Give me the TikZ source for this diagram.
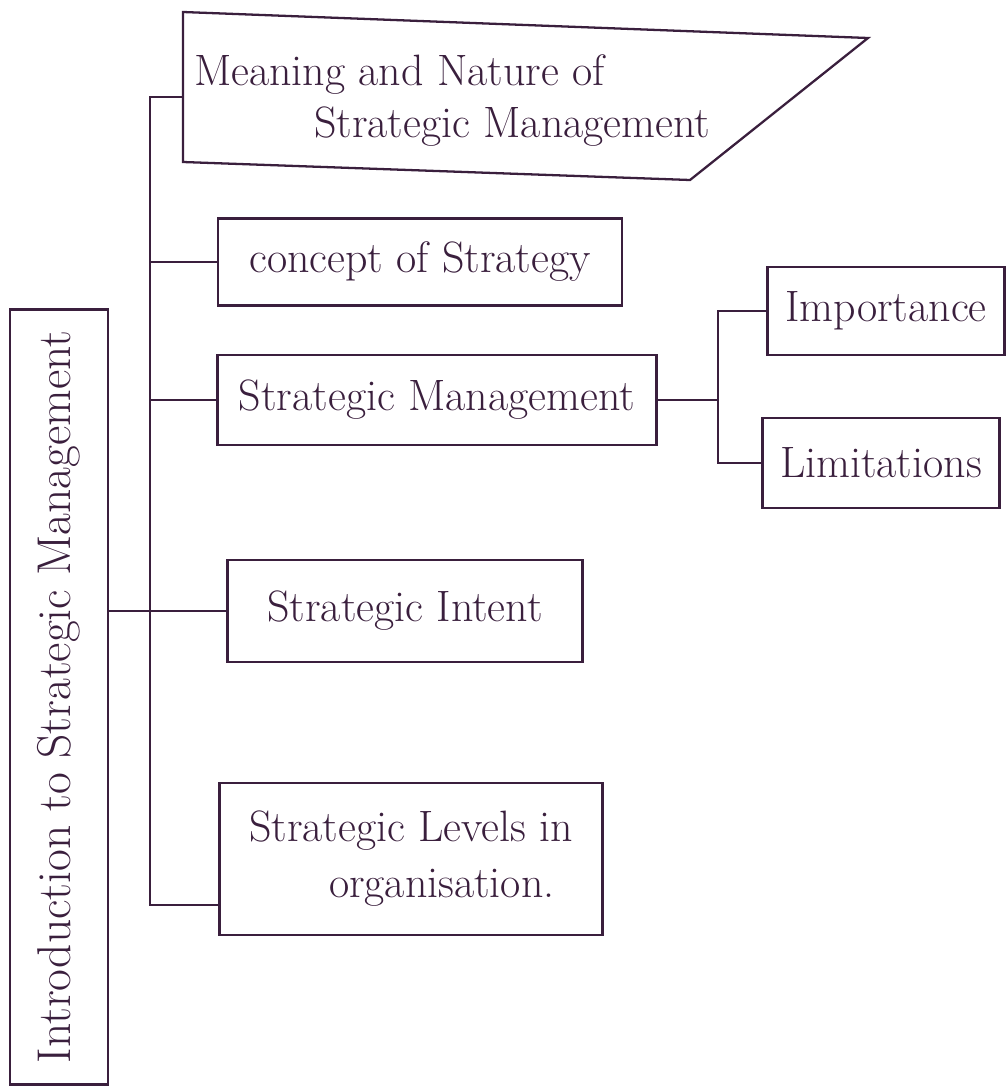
\documentclass[tikz,border=0pt]{standalone}
\usepackage{xcolor}
\usepackage{tikz}
\usetikzlibrary{calc}
\definecolor{ink}{HTML}{3A1F3D}
\tikzset{
  topic/.style={draw=ink,line width=1.3pt,text=ink,inner sep=4pt,
    font=\fontsize{25}{32}\selectfont},
  link/.style={draw=ink,line width=1.3pt}
}

\begin{document}
\begin{tikzpicture}[x=0.02cm,y=-0.02cm]
    \useasboundingbox (0,0) rectangle (1007,1092);

    % main heading, written upwards
    \node[topic,rotate=90,minimum width=15.5cm,minimum height=1.96cm,font=\fontsize{27}{32}\selectfont] (intro) at (59,697) {Introduction to Strategic Management};

    % first box, slanted on its right side
    \draw[link] (183,12) -- (868,38) -- (690,180) -- (183,162) -- cycle;
    \node[text=ink,font=\fontsize{25}{30}\selectfont,align=left,anchor=north west] (meaning) at (188,48)
      {Meaning and Nature of\\\hspace*{2.4cm}Strategic Management};
    \coordinate (meaningW) at (183,97);

    \node[topic,minimum width=8.08cm,minimum height=1.74cm] (concept) at (420,262) {concept of Strategy};
    \node[topic,minimum width=8.78cm,minimum height=1.8cm] (stratman) at (437,400) {Strategic Management};
    \node[topic,minimum width=4.74cm,minimum height=1.76cm] (importance) at (886,311) {Importance};
    \node[topic,minimum width=4.74cm,minimum height=1.8cm] (limits) at (881,463) {Limitations};
    \node[topic,minimum width=7.1cm,minimum height=2.04cm] (intent) at (405,611) {Strategic Intent};
    \node[topic,minimum width=7.66cm,minimum height=3.04cm,align=left] (levels) at (411,859)
      {Strategic Levels in\\\hspace*{1.6cm}organisation.};

    % trunk
    \coordinate (top) at (150,97);
    \coordinate (bot) at (150,905);
    \coordinate (fork) at (718,400);
    \draw[link] (meaningW) -- (top) -- (bot) -- (bot -| levels.west);
    \draw[link] (top |- concept.west) -- (concept.west);
    \draw[link] (top |- stratman.west) -- (stratman.west);
    \draw[link] (intro.south |- intent.west) -- (intent.west);

    \draw[link] (stratman.east) -- (fork);
    \draw[link] (importance.west) -| (fork) |- (limits.west);
\end{tikzpicture}
\end{document}
